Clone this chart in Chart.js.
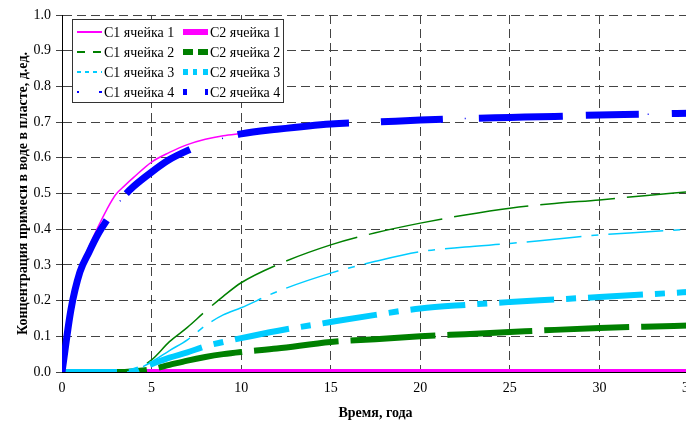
<!DOCTYPE html>
<html>
<head>
<meta charset="utf-8">
<script src="https://cdn.jsdelivr.net/npm/chart.js@4.4.1/dist/chart.umd.min.js"></script>
<style>
html, body { margin: 0; padding: 0; background: #fff; overflow: hidden; }
#wrap { width: 704px; height: 424px; }
</style>
</head>
<body>
<div id="wrap"><canvas id="chart" width="704" height="424"></canvas></div>
<script>
const FONT = "'Liberation Serif', 'Times New Roman', serif";

// время, годы
const years = [0, 0.5, 1, 1.5, 2, 2.5, 3, 3.5, 4, 5, 6, 7, 8, 9, 10, 12, 15, 17.5, 20, 22.5, 25, 27.5, 30, 32.5, 35];

const c1Cell1 = [0, 0.19, 0.29, 0.35, 0.405, 0.455, 0.497, 0.522, 0.545, 0.588, 0.615, 0.637, 0.652, 0.662, 0.668, 0.68, 0.694, null, null, null, null, null, null, null, null];
const c2Cell1 = [0, 0, 0, 0, 0, 0, 0, 0, 0, 0, 0, 0, 0, 0, 0, 0, 0, 0, 0, 0, 0, 0, 0, 0, 0];
const c1Cell2 = [0, 0, 0, 0, 0, 0, 0, 0, 0.005, 0.034, 0.085, 0.125, 0.17, 0.212, 0.25, 0.30, 0.356, 0.39, 0.417, 0.44, 0.459, 0.472, 0.482, 0.494, 0.505];
const c2Cell2 = [0, 0, 0, 0, 0, 0, 0, 0, 0.002, 0.008, 0.02, 0.032, 0.042, 0.05, 0.056, 0.066, 0.084, 0.092, 0.1, 0.106, 0.112, 0.118, 0.123, 0.127, 0.13];
const c1Cell3 = [0, 0, 0, 0, 0, 0, 0, 0, 0.004, 0.028, 0.06, 0.09, 0.13, 0.16, 0.18, 0.225, 0.277, 0.31, 0.337, 0.35, 0.36, 0.372, 0.384, 0.392, 0.40];
const c2Cell3 = [0, 0, 0, 0, 0, 0, 0, 0, 0.003, 0.022, 0.04, 0.055, 0.072, 0.084, 0.095, 0.115, 0.14, 0.16, 0.178, 0.188, 0.196, 0.203, 0.21, 0.217, 0.224];
const c1Cell4 = [0, 0.175, 0.28, 0.335, 0.385, 0.425, 0.462, 0.495, 0.52, 0.56, 0.595, 0.62, 0.64, 0.655, 0.667, 0.68, 0.695, 0.70, 0.706, 0.71, 0.713, 0.716, 0.72, 0.722, 0.725];
const c2Cell4 = [0, 0.175, 0.28, 0.335, 0.385, 0.425, 0.462, 0.495, 0.52, 0.56, 0.595, 0.62, 0.64, 0.655, 0.667, 0.68, 0.695, 0.70, 0.706, 0.71, 0.713, 0.716, 0.72, 0.722, 0.725];

const seriesNames = ['C1 ячейка 1', 'C2 ячейка 1', 'C1 ячейка 2', 'C2 ячейка 2', 'C1 ячейка 3', 'C2 ячейка 3', 'C1 ячейка 4', 'C2 ячейка 4'];
const seriesValues = [c1Cell1, c2Cell1, c1Cell2, c2Cell2, c1Cell3, c2Cell3, c1Cell4, c2Cell4];

const xTitle = 'Время, года';
const yTitle = 'Концентрация примеси в воде в пласте, д.ед.';

// стиль линий на графике и образцы в легенде
const blueDash = [78, 50, 112, 32, 62, 36, 84, 23, 53, 33];
const styles = [
    { color: '#FF00FF', width: 1.5, dash: [],               lw: 2, legendDash: [] },
    { color: '#FF00FF', width: 6,   dash: [],               lw: 6, legendDash: [] },
    { color: '#008000', width: 1.5, dash: [75, 12],         lw: 2, legendDash: [8, 8] },
    { color: '#008000', width: 6,   dash: [85, 12],         lw: 6, legendDash: [10, 5] },
    { color: '#00CCFF', width: 1.5, dash: [55, 10, 7, 10],  lw: 2, legendDash: [4, 4] },
    { color: '#00CCFF', width: 6,   dash: [55, 12, 10, 12], lw: 6, legendDash: [5, 5, 4, 6] },
    { color: '#0000FF', width: 1.5, dash: [1, 60],          lw: 2, legendDash: [2, 20, 3, 20] },
    { color: '#0000FF', width: 7,   dash: blueDash, dashOffset: 530, solidTo: 5, lw: 6, legendDash: [4, 18, 3, 18] }
];

const boxLegend = {
    id: 'boxLegend',
    afterDraw(chart) {
        const ctx = chart.ctx;
        ctx.save();
        ctx.fillStyle = '#fff';
        ctx.fillRect(72, 19, 212, 84);
        ctx.strokeStyle = '#333';
        ctx.lineWidth = 1;
        ctx.strokeRect(72.5, 19.5, 211, 83);
        ctx.font = '14px ' + FONT;
        ctx.textBaseline = 'middle';
        seriesNames.forEach((name, i) => {
            const col = i % 2, row = Math.floor(i / 2);
            const x = col ? 183 : 77;
            const y = 32 + row * 20;
            const st = styles[i];
            ctx.strokeStyle = st.color;
            ctx.lineWidth = st.lw;
            ctx.lineCap = 'butt';
            ctx.setLineDash(st.legendDash);
            ctx.beginPath();
            ctx.moveTo(x, y);
            ctx.lineTo(x + 25, y);
            ctx.stroke();
            ctx.setLineDash([]);
            ctx.fillStyle = '#000';
            ctx.fillText(name, x + 27, y + 1);
        });
        ctx.restore();
    }
};

function makeDataset(vals, i) {
    const st = styles[i];
    const ds = {
        label: seriesNames[i],
        data: years.map((x, k) => ({ x, y: vals[k] })),
        borderColor: st.color,
        backgroundColor: st.color,
        borderWidth: st.width,
        borderDash: st.dash,
        borderCapStyle: 'butt',
        pointRadius: 0,
        fill: false,
        cubicInterpolationMode: 'monotone',
        order: seriesValues.length - i
    };
    if (st.solidTo !== undefined) {
        ds.segment = {
            borderDash: c => c.p1DataIndex <= st.solidTo ? [] : st.dash,
            borderDashOffset: c => c.p1DataIndex <= st.solidTo ? 0 : st.dashOffset
        };
    }
    return ds;
}

new Chart(document.getElementById('chart'), {
    type: 'line',
    data: { datasets: seriesValues.map(makeDataset) },
    options: {
        responsive: false,
        animation: false,
        layout: { padding: { top: 15, left: 0, right: 0, bottom: 0 } },
        plugins: { legend: { display: false }, tooltip: { enabled: false } },
        scales: {
            x: {
                type: 'linear', min: 0, max: 35,
                ticks: { stepSize: 5, color: '#000', font: { family: FONT, size: 14 }, padding: 8, maxRotation: 0 },
                grid: { color: '#444', drawTicks: false },
                border: { color: '#000', width: 1, dash: [9, 5] },
                title: { display: true, text: xTitle, color: '#000', font: { family: FONT, size: 14, weight: 'bold' }, padding: { top: 0, bottom: 2 } },
                afterFit: s => { s.height = 52; }
            },
            y: {
                min: 0, max: 1,
                ticks: { stepSize: 0.1, color: '#000', font: { family: FONT, size: 14 }, padding: 5, callback: v => v.toFixed(1) },
                grid: { color: '#444', tickLength: 6 },
                border: { color: '#000', width: 1, dash: [9, 5] },
                title: { display: true, text: yTitle, color: '#000', font: { family: FONT, size: 14, weight: 'bold' }, padding: { top: 15, bottom: 0 } },
                afterFit: s => { s.width = 62; }
            }
        }
    },
    plugins: [boxLegend]
});
</script>
</body>
</html>
